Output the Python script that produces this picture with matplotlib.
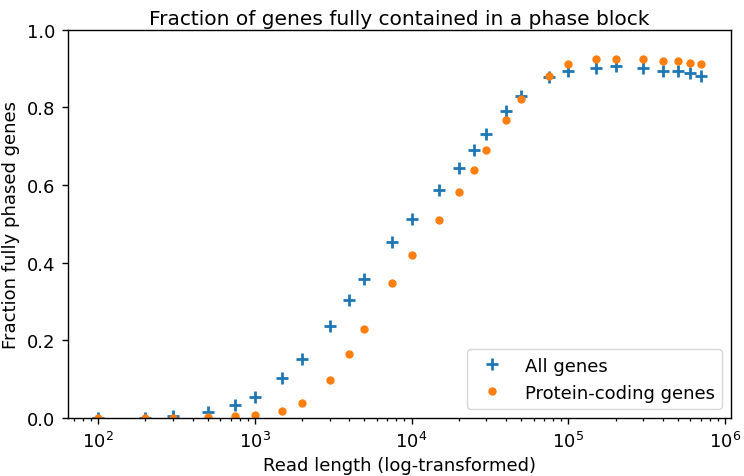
import matplotlib
matplotlib.use('Agg')
import matplotlib.pyplot as plt

# read lengths (bp)
read_len = [100, 200, 300, 500, 750, 1000, 1500, 2000, 3000, 4000, 5000, 7500,
            10000, 15000, 20000, 25000, 30000, 40000, 50000, 75000, 100000,
            150000, 200000, 300000, 400000, 500000, 600000, 700000]

all_genes = [0.0, 0.0, 0.004, 0.015, 0.033, 0.055, 0.103, 0.152, 0.236, 0.305, 0.358, 0.452,
             0.511, 0.586, 0.644, 0.690, 0.732, 0.789, 0.830, 0.877, 0.892,
             0.902, 0.905, 0.900, 0.894, 0.892, 0.887, 0.881]

protein_coding = [0.0, 0.0, 0.0, 0.002, 0.004, 0.007, 0.018, 0.038, 0.098, 0.165, 0.229, 0.348,
                  0.420, 0.510, 0.583, 0.639, 0.690, 0.767, 0.820, 0.881, 0.910,
                  0.923, 0.925, 0.923, 0.920, 0.918, 0.915, 0.910]

fig = plt.figure(figsize=(7.44, 4.77), dpi=100)
ax = fig.add_axes([0.0914, 0.1216, 0.8911, 0.8144])

ax.plot(read_len, all_genes, linestyle='none', marker='+', markersize=9,
        markeredgewidth=2, color='#1f77b4', label='All genes')
ax.plot(read_len, protein_coding, linestyle='none', marker='o', markersize=5,
        color='#ff7f0e', label='Protein-coding genes')

ax.set_xscale('log')
ax.set_ylim(0, 1.0)
ax.set_yticks([0.0, 0.2, 0.4, 0.6, 0.8, 1.0])
ax.tick_params(labelsize=13, length=4, width=1, pad=5)
ax.tick_params(which='minor', length=2.5, width=0.9)
for s in ax.spines.values():
    s.set_linewidth(1)

ax.set_xlabel('Read length (log-transformed)', fontsize=13, labelpad=4)
ax.set_ylabel('Fraction fully phased genes', fontsize=13, labelpad=5)
ax.set_title('Fraction of genes fully contained in a phase block', fontsize=14.5, pad=4)
ax.legend(loc='lower right', fontsize=13)

fig.savefig('out.png', dpi=100, facecolor='white')
